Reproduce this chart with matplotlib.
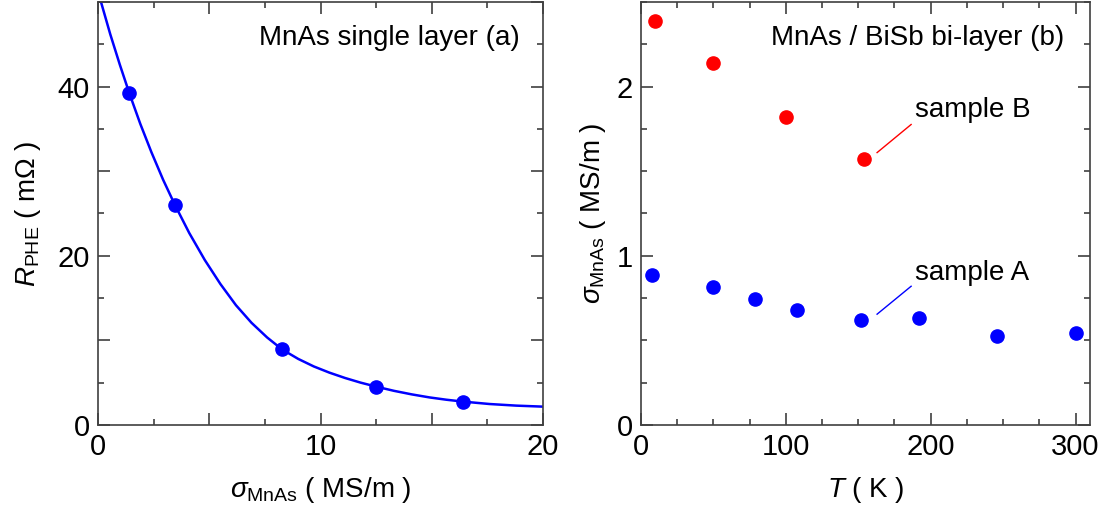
import matplotlib
matplotlib.use("Agg")
import matplotlib.pyplot as plt
from matplotlib.ticker import MultipleLocator, FuncFormatter

# panel (a): MnAs single layer
sigma_pts = [1.41, 3.46, 8.27, 12.48, 16.39]
rphe_pts = [39.2, 26.0, 8.94, 4.55, 2.75]

# fitted curve
sigma_fit = [0.135, 0.55, 0.98, 1.41, 1.9, 2.4, 2.93, 3.46, 4.1, 4.8, 5.5, 6.2,
             6.9, 7.6, 8.27, 9.0, 9.7, 10.4, 11.1, 11.8, 12.48, 13.3, 14.1,
             14.9, 15.65, 16.39, 17.6, 18.8, 20.0]
rphe_fit = [50.0, 46.2, 42.6, 39.2, 35.6, 32.25, 28.97, 26.0, 22.7, 19.5, 16.67,
            14.16, 12.08, 10.35, 8.94, 7.81, 6.92, 6.19, 5.56, 5.01, 4.55, 4.04,
            3.62, 3.26, 2.99, 2.77, 2.48, 2.29, 2.17]

# panel (b): MnAs / BiSb bi-layer
temp_a = [7.6, 50, 78.4, 108, 152, 192, 246, 300]
sig_a = [0.888, 0.816, 0.747, 0.678, 0.618, 0.631, 0.524, 0.543]
temp_b = [9.8, 50, 100, 154]
sig_b = [2.39, 2.14, 1.82, 1.57]

plt.rcParams['font.family'] = ['Liberation Sans', 'DejaVu Sans']
plt.rcParams['mathtext.fontset'] = 'custom'
plt.rcParams['mathtext.rm'] = 'Liberation Sans'
plt.rcParams['mathtext.it'] = 'Liberation Sans:italic'
plt.rcParams['font.size'] = 20

BLUE = '#0000ff'
RED = '#ff0000'
FRAME = '#404040'

fig = plt.figure(figsize=(11.12, 5.13), dpi=100)
ax1 = fig.add_axes([98 / 1112, 88 / 513, 445 / 1112, 423 / 513])
ax2 = fig.add_axes([641 / 1112, 88 / 513, 449 / 1112, 423 / 513])


def style(ax):
    for s in ax.spines.values():
        s.set_color(FRAME)
        s.set_linewidth(1.2)
    ax.tick_params(which='both', direction='in', top=True, right=True,
                   color=FRAME, width=1.2, labelsize=21, pad=6)
    ax.tick_params(which='major', length=8.5)
    ax.tick_params(which='minor', length=4.5)


def every(step):
    return FuncFormatter(lambda v, p: f'{v:.0f}' if abs(v / step - round(v / step)) < 1e-6 else '')


ax1.plot(sigma_fit, rphe_fit, color=BLUE, lw=1.8, zorder=2)
ax1.plot(sigma_pts, rphe_pts, 'o', color=BLUE, ms=9.5, zorder=3)
ax1.set_xlim(0, 20)
ax1.set_ylim(0, 50)
ax1.xaxis.set_major_locator(MultipleLocator(5))
ax1.xaxis.set_minor_locator(MultipleLocator(2.5))
ax1.xaxis.set_major_formatter(every(10))
ax1.yaxis.set_major_locator(MultipleLocator(10))
ax1.yaxis.set_minor_locator(MultipleLocator(5))
ax1.yaxis.set_major_formatter(every(20))
style(ax1)
ax1.set_xlabel(r'$\sigma_{\mathrm{MnAs}}$ ( MS/m )', fontsize=20, labelpad=10)
ax1.set_ylabel(r'$R_{\mathrm{PHE}}$ ( mΩ )', fontsize=20, labelpad=10)
ax1.text(0.948, 0.916, 'MnAs single layer (a)', transform=ax1.transAxes,
         ha='right', va='center', fontsize=20)

ax2.plot(temp_b, sig_b, 'o', color=RED, ms=9.5, zorder=3)
ax2.plot(temp_a, sig_a, 'o', color=BLUE, ms=9.5, zorder=3)
ax2.set_xlim(0, 310)
ax2.set_ylim(0, 2.5)
ax2.xaxis.set_major_locator(MultipleLocator(100))
ax2.xaxis.set_minor_locator(MultipleLocator(25))
ax2.yaxis.set_major_locator(MultipleLocator(1))
ax2.yaxis.set_minor_locator(MultipleLocator(0.25))
ax2.yaxis.set_major_formatter(FuncFormatter(lambda v, p: f'{v:.0f}'))
style(ax2)
ax2.set_xlabel(r'$T$ ( K )', fontsize=20, labelpad=10)
ax2.set_ylabel(r'$\sigma_{\mathrm{MnAs}}$ ( MS/m )', fontsize=20, labelpad=6)
ax2.text(0.943, 0.916, 'MnAs / BiSb bi-layer (b)', transform=ax2.transAxes,
         ha='right', va='center', fontsize=20)

# leader lines to the sample labels
ax2.plot([163, 186.5], [1.61, 1.776], color=RED, lw=1)
ax2.text(189, 1.86, 'sample B', ha='left', va='center', fontsize=20)
ax2.plot([163, 186.5], [0.655, 0.82], color=BLUE, lw=1)
ax2.text(189, 0.897, 'sample A', ha='left', va='center', fontsize=20)

fig.savefig('out.png', dpi=100)
